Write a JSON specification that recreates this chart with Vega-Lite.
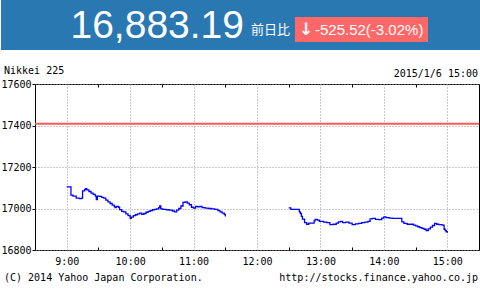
{
  "$schema": "https://vega.github.io/schema/vega-lite/v6.json",
  "padding": 0,
  "background": "white",
  "width": 444,
  "height": 166,
  "config": {"view": {"stroke": "black", "strokeWidth": 1}, "font": "DejaVu Sans Mono"},
  "datasets": {
    "nikkei": [
      {"time": "2015-01-06T09:00", "session": "am", "price": 17104},
      {"time": "2015-01-06T09:03", "session": "am", "price": 17104},
      {"time": "2015-01-06T09:04", "session": "am", "price": 17064},
      {"time": "2015-01-06T09:06", "session": "am", "price": 17060},
      {"time": "2015-01-06T09:09", "session": "am", "price": 17050},
      {"time": "2015-01-06T09:12", "session": "am", "price": 17048},
      {"time": "2015-01-06T09:14", "session": "am", "price": 17050},
      {"time": "2015-01-06T09:15", "session": "am", "price": 17085},
      {"time": "2015-01-06T09:17", "session": "am", "price": 17092},
      {"time": "2015-01-06T09:18", "session": "am", "price": 17096},
      {"time": "2015-01-06T09:19", "session": "am", "price": 17090},
      {"time": "2015-01-06T09:21", "session": "am", "price": 17082},
      {"time": "2015-01-06T09:23", "session": "am", "price": 17074},
      {"time": "2015-01-06T09:25", "session": "am", "price": 17068},
      {"time": "2015-01-06T09:27", "session": "am", "price": 17060},
      {"time": "2015-01-06T09:28", "session": "am", "price": 17043},
      {"time": "2015-01-06T09:29", "session": "am", "price": 17060},
      {"time": "2015-01-06T09:31", "session": "am", "price": 17058},
      {"time": "2015-01-06T09:33", "session": "am", "price": 17054},
      {"time": "2015-01-06T09:35", "session": "am", "price": 17050},
      {"time": "2015-01-06T09:37", "session": "am", "price": 17040},
      {"time": "2015-01-06T09:39", "session": "am", "price": 17032},
      {"time": "2015-01-06T09:41", "session": "am", "price": 17024},
      {"time": "2015-01-06T09:43", "session": "am", "price": 17016},
      {"time": "2015-01-06T09:45", "session": "am", "price": 17008},
      {"time": "2015-01-06T09:46", "session": "am", "price": 17004},
      {"time": "2015-01-06T09:47", "session": "am", "price": 17010},
      {"time": "2015-01-06T09:49", "session": "am", "price": 17006},
      {"time": "2015-01-06T09:50", "session": "am", "price": 16995},
      {"time": "2015-01-06T09:52", "session": "am", "price": 16986},
      {"time": "2015-01-06T09:54", "session": "am", "price": 16984},
      {"time": "2015-01-06T09:56", "session": "am", "price": 16974},
      {"time": "2015-01-06T09:58", "session": "am", "price": 16966},
      {"time": "2015-01-06T10:00", "session": "am", "price": 16952},
      {"time": "2015-01-06T10:01", "session": "am", "price": 16958},
      {"time": "2015-01-06T10:03", "session": "am", "price": 16966},
      {"time": "2015-01-06T10:05", "session": "am", "price": 16970},
      {"time": "2015-01-06T10:07", "session": "am", "price": 16974},
      {"time": "2015-01-06T10:09", "session": "am", "price": 16978},
      {"time": "2015-01-06T10:11", "session": "am", "price": 16972},
      {"time": "2015-01-06T10:13", "session": "am", "price": 16976},
      {"time": "2015-01-06T10:15", "session": "am", "price": 16982},
      {"time": "2015-01-06T10:17", "session": "am", "price": 16986},
      {"time": "2015-01-06T10:19", "session": "am", "price": 16990},
      {"time": "2015-01-06T10:21", "session": "am", "price": 16994},
      {"time": "2015-01-06T10:23", "session": "am", "price": 16996},
      {"time": "2015-01-06T10:25", "session": "am", "price": 16998},
      {"time": "2015-01-06T10:27", "session": "am", "price": 17004},
      {"time": "2015-01-06T10:28", "session": "am", "price": 17012},
      {"time": "2015-01-06T10:29", "session": "am", "price": 16998},
      {"time": "2015-01-06T10:31", "session": "am", "price": 16996},
      {"time": "2015-01-06T10:34", "session": "am", "price": 16994},
      {"time": "2015-01-06T10:37", "session": "am", "price": 16992},
      {"time": "2015-01-06T10:40", "session": "am", "price": 16988},
      {"time": "2015-01-06T10:42", "session": "am", "price": 16984},
      {"time": "2015-01-06T10:44", "session": "am", "price": 16992},
      {"time": "2015-01-06T10:46", "session": "am", "price": 17000},
      {"time": "2015-01-06T10:48", "session": "am", "price": 17012},
      {"time": "2015-01-06T10:50", "session": "am", "price": 17030},
      {"time": "2015-01-06T10:52", "session": "am", "price": 17032},
      {"time": "2015-01-06T10:54", "session": "am", "price": 17026},
      {"time": "2015-01-06T10:56", "session": "am", "price": 17018},
      {"time": "2015-01-06T10:58", "session": "am", "price": 17006},
      {"time": "2015-01-06T11:00", "session": "am", "price": 17002},
      {"time": "2015-01-06T11:02", "session": "am", "price": 17010},
      {"time": "2015-01-06T11:04", "session": "am", "price": 17008},
      {"time": "2015-01-06T11:06", "session": "am", "price": 17010},
      {"time": "2015-01-06T11:08", "session": "am", "price": 17004},
      {"time": "2015-01-06T11:11", "session": "am", "price": 17002},
      {"time": "2015-01-06T11:14", "session": "am", "price": 17000},
      {"time": "2015-01-06T11:17", "session": "am", "price": 16998},
      {"time": "2015-01-06T11:20", "session": "am", "price": 16996},
      {"time": "2015-01-06T11:23", "session": "am", "price": 16990},
      {"time": "2015-01-06T11:25", "session": "am", "price": 16984},
      {"time": "2015-01-06T11:27", "session": "am", "price": 16978},
      {"time": "2015-01-06T11:29", "session": "am", "price": 16972},
      {"time": "2015-01-06T11:30", "session": "am", "price": 16962},
      {"time": "2015-01-06T12:30", "session": "pm", "price": 17003},
      {"time": "2015-01-06T12:32", "session": "pm", "price": 16996},
      {"time": "2015-01-06T12:38", "session": "pm", "price": 16996},
      {"time": "2015-01-06T12:40", "session": "pm", "price": 16984},
      {"time": "2015-01-06T12:41", "session": "pm", "price": 16976},
      {"time": "2015-01-06T12:42", "session": "pm", "price": 16962},
      {"time": "2015-01-06T12:43", "session": "pm", "price": 16949},
      {"time": "2015-01-06T12:45", "session": "pm", "price": 16932},
      {"time": "2015-01-06T12:47", "session": "pm", "price": 16924},
      {"time": "2015-01-06T12:49", "session": "pm", "price": 16930},
      {"time": "2015-01-06T12:52", "session": "pm", "price": 16930},
      {"time": "2015-01-06T12:54", "session": "pm", "price": 16940},
      {"time": "2015-01-06T12:55", "session": "pm", "price": 16948},
      {"time": "2015-01-06T12:57", "session": "pm", "price": 16944},
      {"time": "2015-01-06T12:59", "session": "pm", "price": 16938},
      {"time": "2015-01-06T13:01", "session": "pm", "price": 16938},
      {"time": "2015-01-06T13:03", "session": "pm", "price": 16934},
      {"time": "2015-01-06T13:06", "session": "pm", "price": 16932},
      {"time": "2015-01-06T13:09", "session": "pm", "price": 16922},
      {"time": "2015-01-06T13:12", "session": "pm", "price": 16924},
      {"time": "2015-01-06T13:15", "session": "pm", "price": 16930},
      {"time": "2015-01-06T13:17", "session": "pm", "price": 16936},
      {"time": "2015-01-06T13:19", "session": "pm", "price": 16938},
      {"time": "2015-01-06T13:21", "session": "pm", "price": 16932},
      {"time": "2015-01-06T13:24", "session": "pm", "price": 16934},
      {"time": "2015-01-06T13:27", "session": "pm", "price": 16930},
      {"time": "2015-01-06T13:30", "session": "pm", "price": 16922},
      {"time": "2015-01-06T13:33", "session": "pm", "price": 16926},
      {"time": "2015-01-06T13:36", "session": "pm", "price": 16928},
      {"time": "2015-01-06T13:39", "session": "pm", "price": 16932},
      {"time": "2015-01-06T13:42", "session": "pm", "price": 16934},
      {"time": "2015-01-06T13:45", "session": "pm", "price": 16938},
      {"time": "2015-01-06T13:47", "session": "pm", "price": 16950},
      {"time": "2015-01-06T13:49", "session": "pm", "price": 16952},
      {"time": "2015-01-06T13:52", "session": "pm", "price": 16948},
      {"time": "2015-01-06T13:55", "session": "pm", "price": 16946},
      {"time": "2015-01-06T13:58", "session": "pm", "price": 16954},
      {"time": "2015-01-06T14:00", "session": "pm", "price": 16960},
      {"time": "2015-01-06T14:02", "session": "pm", "price": 16956},
      {"time": "2015-01-06T14:05", "session": "pm", "price": 16954},
      {"time": "2015-01-06T14:08", "session": "pm", "price": 16952},
      {"time": "2015-01-06T14:11", "session": "pm", "price": 16952},
      {"time": "2015-01-06T14:14", "session": "pm", "price": 16952},
      {"time": "2015-01-06T14:17", "session": "pm", "price": 16936},
      {"time": "2015-01-06T14:19", "session": "pm", "price": 16928},
      {"time": "2015-01-06T14:22", "session": "pm", "price": 16924},
      {"time": "2015-01-06T14:25", "session": "pm", "price": 16924},
      {"time": "2015-01-06T14:28", "session": "pm", "price": 16920},
      {"time": "2015-01-06T14:30", "session": "pm", "price": 16916},
      {"time": "2015-01-06T14:32", "session": "pm", "price": 16912},
      {"time": "2015-01-06T14:34", "session": "pm", "price": 16908},
      {"time": "2015-01-06T14:36", "session": "pm", "price": 16904},
      {"time": "2015-01-06T14:38", "session": "pm", "price": 16900},
      {"time": "2015-01-06T14:40", "session": "pm", "price": 16894},
      {"time": "2015-01-06T14:42", "session": "pm", "price": 16902},
      {"time": "2015-01-06T14:44", "session": "pm", "price": 16910},
      {"time": "2015-01-06T14:46", "session": "pm", "price": 16918},
      {"time": "2015-01-06T14:48", "session": "pm", "price": 16928},
      {"time": "2015-01-06T14:50", "session": "pm", "price": 16924},
      {"time": "2015-01-06T14:52", "session": "pm", "price": 16922},
      {"time": "2015-01-06T14:55", "session": "pm", "price": 16920},
      {"time": "2015-01-06T14:57", "session": "pm", "price": 16900},
      {"time": "2015-01-06T14:58", "session": "pm", "price": 16894},
      {"time": "2015-01-06T14:59", "session": "pm", "price": 16888},
      {"time": "2015-01-06T15:00", "session": "pm", "price": 16883}
    ],
    "header": [{"price": "16,883.19", "label": "前日比", "arrow": "↓", "change": "-525.52(-3.02%)"}]
  },
  "layer": [
    {
      "data": {"name": "nikkei"},
      "mark": {"type": "line", "interpolate": "step-after", "color": "#0000ff", "strokeWidth": 1.3},
      "encoding": {
        "x": {
          "field": "time", "type": "temporal",
          "scale": {"domain": [{"year": 2015, "month": 1, "date": 6, "hours": 8, "minutes": 30}, {"year": 2015, "month": 1, "date": 6, "hours": 15, "minutes": 30}]},
          "axis": {
            "orient": "bottom", "title": null, "domain": false,
            "values": [
              {"year": 2015, "month": 1, "date": 6, "hours": 9, "minutes": 0},
              {"year": 2015, "month": 1, "date": 6, "hours": 9, "minutes": 30},
              {"year": 2015, "month": 1, "date": 6, "hours": 10, "minutes": 0},
              {"year": 2015, "month": 1, "date": 6, "hours": 10, "minutes": 30},
              {"year": 2015, "month": 1, "date": 6, "hours": 11, "minutes": 0},
              {"year": 2015, "month": 1, "date": 6, "hours": 11, "minutes": 30},
              {"year": 2015, "month": 1, "date": 6, "hours": 12, "minutes": 0},
              {"year": 2015, "month": 1, "date": 6, "hours": 12, "minutes": 30},
              {"year": 2015, "month": 1, "date": 6, "hours": 13, "minutes": 0},
              {"year": 2015, "month": 1, "date": 6, "hours": 13, "minutes": 30},
              {"year": 2015, "month": 1, "date": 6, "hours": 14, "minutes": 0},
              {"year": 2015, "month": 1, "date": 6, "hours": 14, "minutes": 30},
              {"year": 2015, "month": 1, "date": 6, "hours": 15, "minutes": 0}
            ],
            "labelExpr": "minutes(datum.value) == 0 ? timeFormat(datum.value, '%-H:%M') : ''",
            "labelFont": "DejaVu Sans Mono", "labelFontSize": 10, "labelColor": "black", "labelPadding": 9,
            "tickSize": -3, "tickColor": "black",
            "tickOpacity": {"condition": {"test": "minutes(datum.value) == 30", "value": 1}, "value": 0},
            "grid": true, "gridColor": "#999999", "gridDash": [1, 2],
            "gridOpacity": {"condition": {"test": "minutes(datum.value) == 0", "value": 1}, "value": 0}
          }
        },
        "y": {
          "field": "price", "type": "quantitative",
          "scale": {"domain": [16800, 17600], "zero": false, "nice": false},
          "axis": {
            "title": null, "domain": false, "values": [16800, 17000, 17200, 17400, 17600], "format": "d",
            "labelFont": "DejaVu Sans Mono", "labelFontSize": 10, "labelColor": "black", "labelPadding": 1,
            "tickSize": 3, "tickColor": "black",
            "grid": true, "gridColor": "#999999", "gridDash": [1, 2]
          }
        },
        "detail": {"field": "session"}
      }
    },
    {
      "data": {"name": "nikkei"},
      "mark": {"type": "line", "strokeOpacity": 0},
      "encoding": {
        "x": {
          "field": "time", "type": "temporal",
          "axis": {
            "orient": "top", "title": null, "domain": false, "labels": false, "grid": false,
            "values": [
              {"year": 2015, "month": 1, "date": 6, "hours": 9, "minutes": 30},
              {"year": 2015, "month": 1, "date": 6, "hours": 10, "minutes": 30},
              {"year": 2015, "month": 1, "date": 6, "hours": 11, "minutes": 30},
              {"year": 2015, "month": 1, "date": 6, "hours": 12, "minutes": 30},
              {"year": 2015, "month": 1, "date": 6, "hours": 13, "minutes": 30},
              {"year": 2015, "month": 1, "date": 6, "hours": 14, "minutes": 30}
            ],
            "tickSize": -3, "tickColor": "black"
          }
        },
        "y": {"field": "price", "type": "quantitative", "axis": null},
        "detail": {"field": "session"}
      }
    },
    {
      "data": {"values": [{"prevClose": 17408.71}]},
      "mark": {"type": "rule", "color": "#ff5a5a", "strokeWidth": 2},
      "encoding": {"y": {"field": "prevClose", "type": "quantitative", "axis": null}}
    },
    {
      "data": {"values": [{"label": "Nikkei 225"}]},
      "mark": {"type": "text", "align": "left", "baseline": "alphabetic", "dx": -31, "dy": -10, "font": "DejaVu Sans Mono", "fontSize": 10, "color": "black"},
      "encoding": {
        "x": {"datum": {"year": 2015, "month": 1, "date": 6, "hours": 8, "minutes": 30}, "type": "temporal", "axis": null},
        "y": {"datum": 17600, "type": "quantitative", "axis": null},
        "text": {"field": "label"}
      }
    },
    {
      "data": {"values": [{"label": "2015/1/6 15:00"}]},
      "mark": {"type": "text", "align": "right", "baseline": "alphabetic", "dx": -1, "dy": -7, "font": "DejaVu Sans Mono", "fontSize": 10, "color": "black"},
      "encoding": {
        "x": {"datum": {"year": 2015, "month": 1, "date": 6, "hours": 15, "minutes": 30}, "type": "temporal", "axis": null},
        "y": {"datum": 17600, "type": "quantitative", "axis": null},
        "text": {"field": "label"}
      }
    },
    {
      "data": {"values": [{"label": "(C) 2014 Yahoo Japan Corporation."}]},
      "mark": {"type": "text", "align": "left", "baseline": "alphabetic", "dx": -31, "dy": 31, "font": "DejaVu Sans Mono", "fontSize": 10, "color": "black"},
      "encoding": {
        "x": {"datum": {"year": 2015, "month": 1, "date": 6, "hours": 8, "minutes": 30}, "type": "temporal", "axis": null},
        "y": {"datum": 16800, "type": "quantitative", "axis": null},
        "text": {"field": "label"}
      }
    },
    {
      "data": {"values": [{"label": "http://stocks.finance.yahoo.co.jp"}]},
      "mark": {"type": "text", "align": "right", "baseline": "alphabetic", "dx": -1, "dy": 31, "font": "DejaVu Sans Mono", "fontSize": 10, "color": "black"},
      "encoding": {
        "x": {"datum": {"year": 2015, "month": 1, "date": 6, "hours": 15, "minutes": 30}, "type": "temporal", "axis": null},
        "y": {"datum": 16800, "type": "quantitative", "axis": null},
        "text": {"field": "label"}
      }
    },
    {
      "data": {"name": "header"},
      "mark": {"type": "rect", "x": -34, "x2": 446, "y": -84, "y2": -34, "color": "#2a78b2"},
      "encoding": {}
    },
    {
      "data": {"name": "header"},
      "mark": {"type": "text", "x": 209, "y": -46, "align": "right", "baseline": "alphabetic", "font": "Liberation Sans", "fontSize": 39, "color": "white"},
      "encoding": {"text": {"field": "price"}}
    },
    {
      "data": {"name": "header"},
      "mark": {"type": "text", "x": 216, "y": -50, "align": "left", "baseline": "alphabetic", "font": "Noto Sans CJK JP", "fontSize": 13, "color": "white"},
      "encoding": {"text": {"field": "label"}}
    },
    {
      "data": {"name": "header"},
      "mark": {"type": "rect", "x": 260, "x2": 393, "y": -67, "y2": -42, "color": "#ff6868"},
      "encoding": {}
    },
    {
      "data": {"name": "header"},
      "mark": {"type": "text", "x": 271, "y": -49, "align": "center", "baseline": "alphabetic", "font": "DejaVu Sans", "fontWeight": "bold", "fontSize": 17, "color": "white"},
      "encoding": {"text": {"field": "arrow"}}
    },
    {
      "data": {"name": "header"},
      "mark": {"type": "text", "x": 280, "y": -49, "align": "left", "baseline": "alphabetic", "font": "Liberation Sans", "fontSize": 15, "color": "white"},
      "encoding": {"text": {"field": "change"}}
    }
  ],
  "resolve": {"axis": {"x": "independent", "y": "independent"}}
}
